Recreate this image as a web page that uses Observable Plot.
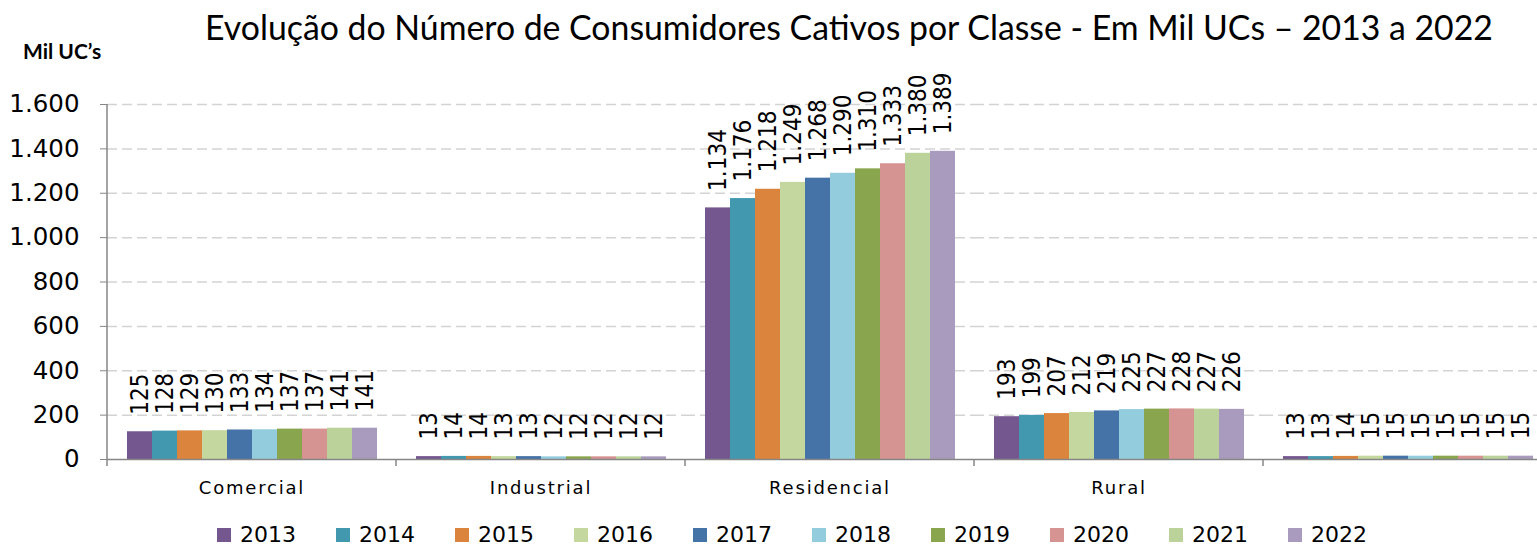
<!DOCTYPE html>
<html><head><meta charset="utf-8">
<script src="https://cdn.jsdelivr.net/npm/d3@7"></script>
<script src="https://cdn.jsdelivr.net/npm/@observablehq/plot@0.6"></script>
<style>
html,body{margin:0;padding:0;background:#fff;}
body{width:1537px;height:544px;overflow:hidden;position:relative;font-family:"DejaVu Sans",sans-serif;}
#title{position:absolute;left:0;top:11px;width:1698px;text-align:center;font-family:Lato,"Open Sans",sans-serif;font-size:31px;line-height:1;white-space:nowrap;color:#000;}
#title span{display:inline-block;}
#unit{position:absolute;left:23px;top:40px;font-family:Lato,"Open Sans",sans-serif;font-weight:bold;font-size:21px;line-height:1;color:#000;white-space:nowrap;}
#chart{position:absolute;left:0;top:50px;width:1560px;}
#legend{position:absolute;left:217px;top:522px;display:flex;font-size:22px;line-height:26px;}
.item{width:119px;display:flex;align-items:center;}
.sw{width:14px;height:14px;margin-right:9px;}
</style></head><body>
<div id="title"><span id="tt">Evolução do Número de Consumidores Cativos por Classe - Em Mil UCs – 2013 a 2022</span></div>
<div id="unit">Mil UC’s</div>
<div id="chart"></div>
<div id="legend"></div>
<script>
const categories = ["Comercial", "Industrial", "Residencial", "Rural", ""];
const years = ["2013","2014","2015","2016","2017","2018","2019","2020","2021","2022"];
const comercial   = [125, 128, 129, 130, 133, 134, 137, 137, 141, 141];
const industrial  = [13, 14, 14, 13, 13, 12, 12, 12, 12, 12];
const residencial = [1134, 1176, 1218, 1249, 1268, 1290, 1310, 1333, 1380, 1389];
const rural       = [193, 199, 207, 212, 219, 225, 227, 228, 227, 226];
const outros      = [13, 13, 14, 15, 15, 15, 15, 15, 15, 15];
const yTicks = [0, 200, 400, 600, 800, 1000, 1200, 1400, 1600];
const colors = ["#755790","#4198AF","#DB843D","#C4D79E","#4572A7","#93CDDD","#89A54E","#D59391","#BBD39A","#A99BBD"];

const series = [comercial, industrial, residencial, rural, outros];
const data = categories.flatMap((c, i) => years.map((y, j) => ({cat: c, year: y, value: series[i][j]})));
const fmt = d3.formatLocale({decimal: ",", thousands: ".", grouping: [3], currency: ["", ""]}).format(",d");

const chart = Plot.plot({
  width: 1560, height: 454,
  marginLeft: 106, marginRight: 8, marginTop: 54, marginBottom: 45,
  style: {fontFamily: "DejaVu Sans", background: "transparent", overflow: "visible", color: "#000"},
  fx: {domain: categories, padding: 0, label: null},
  x: {domain: years, paddingInner: 0, paddingOuter: 0.73, axis: null},
  y: {domain: [0, 1600], label: null},
  color: {domain: years, range: colors},
  marks: [
    Plot.gridY(yTicks.filter(v => v > 0), {stroke: "#d3d3d3", strokeOpacity: 1, strokeWidth: 1.5, strokeDasharray: "10,5"}),
    Plot.axisY(yTicks, {tickSize: 7, tickPadding: 21, tickFormat: fmt, fontSize: 24.5, stroke: "#868686", fill: "#000", label: null}),
    Plot.axisFx({anchor: "bottom", tickSize: 0, tickPadding: 22, fontSize: 18, label: null, fill: "#000"}),
    Plot.barY(data, {fx: "cat", x: "year", y: "value", fill: "year", inset: 0}),
    Plot.ruleY([0], {stroke: "#868686", strokeWidth: 1.5}),
    Plot.text(data, {fx: "cat", x: "year", y: "value", text: d => fmt(d.value), rotate: -90, textAnchor: "start", dy: -17, fontSize: 24, fill: "#000"})
  ]
});
document.getElementById("chart").appendChild(chart);

// condensed face for the value labels
d3.select(chart).selectAll('g[aria-label="text"] text').style("font-stretch", "condensed");
// letter spacing on category labels
d3.select(chart).selectAll('g[aria-label="fx-axis tick label"] text').style("letter-spacing", "1.8px");

// axis line and group boundary ticks from the library's scales
const fxs = chart.scale("fx"), ys = chart.scale("y");
const y0 = ys.apply(0), yTop = ys.apply(1600);
const g = d3.select(chart).append("g").attr("stroke", "#868686").attr("stroke-width", 1.5);
const left = fxs.apply(categories[0]);
g.append("line").attr("x1", left).attr("x2", left).attr("y1", yTop).attr("y2", y0 + 7);
const bounds = categories.map(c => fxs.apply(c)).concat([fxs.apply(categories[categories.length - 1]) + fxs.bandwidth]);
bounds.slice(1).forEach(b => g.append("line").attr("x1", b).attr("x2", b).attr("y1", y0).attr("y2", y0 + 7));

// legend
const leg = d3.select("#legend");
years.forEach((y, i) => {
  const it = leg.append("div").attr("class", "item");
  it.append("div").attr("class", "sw").style("background", colors[i]);
  it.append("span").text(y);
});

// fit title width
const tt = document.getElementById("tt");
const w = tt.getBoundingClientRect().width;
document.getElementById("title").style.fontSize = (31 * 1288 / w) + "px";
</script>
</body></html>
